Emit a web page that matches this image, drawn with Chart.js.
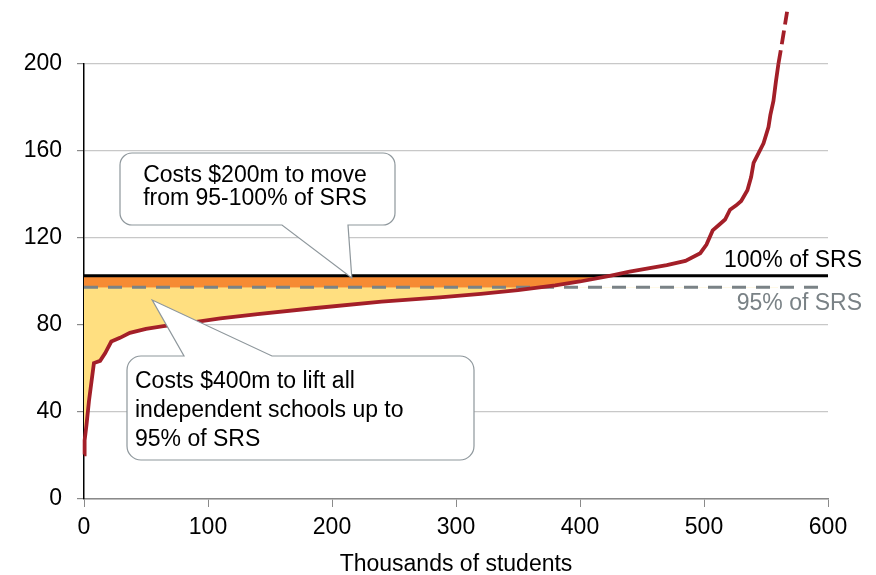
<!DOCTYPE html>
<html>
<head>
<meta charset="utf-8">
<script src="https://cdn.jsdelivr.net/npm/chart.js@4.4.1/dist/chart.umd.min.js"></script>
<style>
  html, body { margin: 0; padding: 0; background: #fff; }
  #wrap { width: 876px; height: 575px; }
</style>
</head>
<body>
<div id="wrap"><canvas id="srsChart" width="876" height="575"></canvas></div>
<script>
// Independent schools ranked by funding as % of SRS, cumulative students (thousands)
const students = [0, 0.5, 2, 4, 6.5, 8, 13, 17, 22, 29, 37, 50, 64, 85, 110, 140, 185, 240, 287, 320, 350, 380, 400, 425, 440, 455, 470, 485, 497, 502, 507, 512, 517, 521, 526, 530, 535, 538, 540, 544, 548, 552, 553.5, 556, 558, 560];
const fundingPct = [20.5, 27, 34, 45, 56, 62.5, 63.5, 67, 72.4, 74.1, 76.4, 78.2, 79.5, 81, 83, 85, 87.7, 90.7, 92.7, 94.3, 96, 98.2, 100, 102.7, 104.5, 106, 107.5, 109.5, 113, 117, 123.5, 126, 128.5, 133, 135, 137, 142, 148, 154.5, 159, 163.5, 171, 176.5, 183, 192, 200];
// top tail runs off the axis, drawn dashed
const tailStudents = [560, 563, 567];
const tailFunding = [200, 210, 224];

const srsFull = 102.7;
const srsNinetyFive = 97.4;

const xTicks = [0, 100, 200, 300, 400, 500, 600];
const yTicks = [0, 40, 80, 120, 160, 200];

const RED = '#A31F28';
const ORANGE = '#F68B33';
const YELLOW = '#FFDF80';
const GREY = '#7A8286';
const FONT = '"Liberation Sans", Arial, sans-serif';

Chart.defaults.font.family = FONT;
Chart.defaults.font.size = 23;
Chart.defaults.color = '#000';

const toPoints = (xs, ys) => xs.map((x, i) => ({ x: x, y: ys[i] }));
const curve = toPoints(students, fundingPct);
const tail = toPoints(tailStudents, tailFunding);
const flat = v => [{ x: 0, y: v }, { x: 600, y: v }];

// callout boxes: rounded rectangle with a pointer to a spot on the chart
function callout(ctx, box, tip, side) {
  const { l, t, r, b, rad } = box;
  ctx.beginPath();
  ctx.moveTo(l + rad, t);
  if (side === 'top') {
    ctx.lineTo(box.p1, t);
    ctx.lineTo(tip.x, tip.y);
    ctx.lineTo(box.p2, t);
  }
  ctx.lineTo(r - rad, t);
  ctx.arcTo(r, t, r, t + rad, rad);
  ctx.lineTo(r, b - rad);
  ctx.arcTo(r, b, r - rad, b, rad);
  if (side === 'bottom') {
    ctx.lineTo(box.p2, b);
    ctx.lineTo(tip.x, tip.y);
    ctx.lineTo(box.p1, b);
  }
  ctx.lineTo(l + rad, b);
  ctx.arcTo(l, b, l, b - rad, rad);
  ctx.lineTo(l, t + rad);
  ctx.arcTo(l, t, l + rad, t, rad);
  ctx.closePath();
  ctx.fillStyle = '#fff';
  ctx.fill();
  ctx.lineWidth = 1.2;
  ctx.strokeStyle = '#8E979C';
  ctx.stroke();
}

const annotations = {
  id: 'annotations',
  afterDraw(chart) {
    const ctx = chart.ctx;
    const xs = chart.scales.x, ys = chart.scales.y;
    ctx.save();
    ctx.font = '23px ' + FONT;
    ctx.textAlign = 'right';
    ctx.textBaseline = 'alphabetic';
    ctx.fillStyle = '#000';
    ctx.fillText('100% of SRS', 862, ys.getPixelForValue(srsFull) - 9);
    ctx.fillStyle = GREY;
    ctx.fillText('95% of SRS', 862, ys.getPixelForValue(srsNinetyFive) + 23);

    callout(ctx, { l: 120, t: 153, r: 395, b: 225, rad: 12, p1: 282, p2: 348 },
      { x: xs.getPixelForValue(216), y: ys.getPixelForValue(101.6) }, 'bottom');
    callout(ctx, { l: 127, t: 356, r: 474, b: 460, rad: 14, p1: 184, p2: 272 },
      { x: xs.getPixelForValue(55), y: ys.getPixelForValue(91.5) }, 'top');

    ctx.fillStyle = '#000';
    ctx.textAlign = 'center';
    ctx.fillText('Costs $200m to move', 255, 182);
    ctx.fillText('from 95-100% of SRS', 255, 205);
    ctx.textAlign = 'left';
    ctx.fillText('Costs $400m to lift all', 135, 388);
    ctx.fillText('independent schools up to', 135, 417);
    ctx.fillText('95% of SRS', 135, 446);
    ctx.restore();
  }
};

new Chart(document.getElementById('srsChart'), {
  type: 'line',
  data: {
    datasets: [
      {
        data: curve, borderColor: RED, borderWidth: 3.8, pointRadius: 0,
        fill: false, order: 0, clip: false
      },
      {
        data: tail, borderColor: RED, borderWidth: 3.8, pointRadius: 0,
        borderDash: [14, 6], fill: false, order: 0, clip: false
      },
      {
        data: flat(srsFull), borderColor: '#000', borderWidth: 3, pointRadius: 0,
        fill: false, order: 1
      },
      {
        data: flat(srsNinetyFive), borderColor: GREY, borderWidth: 3, pointRadius: 0,
        borderDash: [14, 10], fill: false, order: 1
      },
      {
        // gap up to 95% of SRS
        data: curve, borderWidth: 0, pointRadius: 0, order: 2,
        fill: { target: { value: srsNinetyFive }, above: 'rgba(0,0,0,0)', below: YELLOW }
      },
      {
        // gap up to 100% of SRS
        data: curve, borderWidth: 0, pointRadius: 0, order: 3,
        fill: { target: { value: srsFull }, above: 'rgba(0,0,0,0)', below: ORANGE }
      }
    ]
  },
  options: {
    responsive: false,
    animation: false,
    devicePixelRatio: 1,
    layout: { padding: { top: 64, right: 48, bottom: 0, left: 0 } },
    plugins: { legend: { display: false }, tooltip: { enabled: false } },
    scales: {
      x: {
        type: 'linear', min: 0, max: 600,
        afterBuildTicks: s => { s.ticks = xTicks.map(v => ({ value: v })); },
        afterFit: s => { s.height = 76; },
        border: { color: '#8A8A8A', width: 1.5 },
        grid: { drawOnChartArea: false, tickLength: 8, color: '#8A8A8A' },
        ticks: { padding: 7 },
        title: { display: true, text: 'Thousands of students', padding: { top: 0, bottom: -3 } }
      },
      y: {
        min: 0, max: 200,
        afterBuildTicks: s => { s.ticks = yTicks.map(v => ({ value: v })); },
        afterFit: s => { s.width = 84; },
        border: { color: '#000', width: 1.5 },
        grid: { color: '#C8C8C8', lineWidth: 1.2, tickLength: 7, tickColor: '#8A8A8A' },
        ticks: { padding: 15 }
      }
    }
  },
  plugins: [annotations]
});
</script>
</body>
</html>
